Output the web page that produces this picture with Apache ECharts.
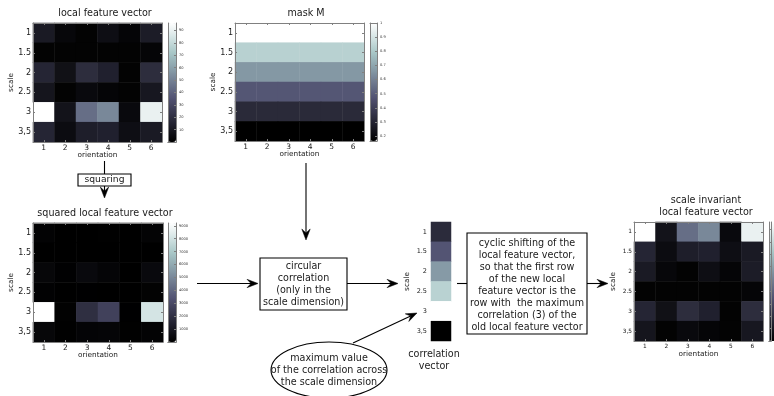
<!DOCTYPE html>
<html><head><meta charset="utf-8">
<script src="https://cdn.jsdelivr.net/npm/echarts@6/dist/echarts.min.js"></script>
<style>html,body{margin:0;padding:0;background:#fff}#c{width:774px;height:396px}</style>
</head><body><div id="c"></div>
<script>
// ---------- data ----------
const orientations = ['1','2','3','4','5','6'];
const scales = ['1','1.5','2','2.5','3','3,5'];
const localFeature = [
  [11, 3, 1, 6, 2, 12],
  [1, 1, 1, 1, 1, 2],
  [16, 7, 19, 14, 1, 19],
  [9, 1, 4, 2, 1, 10],
  [96, 8, 44, 52, 4, 90],
  [16, 5, 13, 14, 6, 11]
];
const squaredFeature = [
  [121, 9, 1, 36, 4, 144],
  [1, 1, 1, 1, 1, 4],
  [256, 49, 361, 196, 1, 361],
  [81, 1, 16, 4, 1, 100],
  [9216, 64, 1936, 2704, 16, 8100],
  [256, 25, 169, 196, 36, 121]
];
const maskM = [1.0, 0.83, 0.66, 0.48, 0.32, 0.165];
const correlation = [0.19, 0.37, 0.6, 0.8, 1.0, 0.0];
const invariantFeature = [
  [96, 8, 44, 52, 4, 90],
  [16, 5, 13, 14, 6, 11],
  [11, 3, 1, 6, 2, 12],
  [1, 1, 1, 1, 1, 2],
  [16, 7, 19, 14, 1, 19],
  [9, 1, 4, 2, 1, 10]
];
const localTicks = [10, 20, 30, 40, 50, 60, 70, 80, 90];
const squaredTicks = [1000, 2000, 3000, 4000, 5000, 6000, 7000, 8000, 9000];
const maskTicks = [0.2, 0.3, 0.4, 0.5, 0.6, 0.7, 0.8, 0.9, 1];
const localRange = [0, 96];
const squaredRange = [0, 9216];
const maskRange = [0.165, 1];
const corrRange = [0, 1];

// ---------- style helpers ----------
const FONT = 'DejaVu Sans';
const FRAME = '#808080';
const TXT = '#1a1a1a';
function bone(t) {
  const a = 0.365079, b = 0.746032;
  const r = t < b ? 0.652778 * t / b : 0.652778 + (t - b) / (1 - b) * (1 - 0.652778);
  const g = t < a ? 0.319444 * t / a : (t < b ? 0.319444 + (t - a) / (b - a) * (0.777778 - 0.319444)
                                             : 0.777778 + (t - b) / (1 - b) * (1 - 0.777778));
  const bl = t < a ? 0.444444 * t / a : 0.444444 + (t - a) / (1 - a) * (1 - 0.444444);
  return 'rgb(' + [r, g, bl].map(v => Math.round(v * 255)).join(',') + ')';
}
const boneStops = [];
for (let i = 0; i <= 40; i++) boneStops.push(bone(i / 40));

const option = {
  animation: false, backgroundColor: '#fff',
  grid: [], xAxis: [], yAxis: [], series: [], visualMap: [],
  graphic: { elements: [] }
};

function heatPanel(box, cfg) {
  const gi = option.grid.length;
  option.grid.push({ left: box[0], top: box[1], width: box[2], height: box[3] });
  const xi = option.xAxis.length, yi = option.yAxis.length;
  const line = { show: cfg.frame, lineStyle: { color: FRAME, width: 1 } };
  const tick = { show: cfg.frame, inside: true, alignWithLabel: true, length: 2, lineStyle: { color: FRAME } };
  option.xAxis.push({
    gridIndex: gi, type: 'category', data: cfg.xCats, position: 'bottom', z: 10,
    axisLine: line, axisTick: tick, splitLine: { show: false },
    axisLabel: { show: cfg.xLabels, fontSize: cfg.xFont, fontFamily: FONT, color: TXT, margin: cfg.xMargin },
    name: cfg.xName, nameLocation: 'middle', nameGap: cfg.xNameGap, nameMoveOverlap: false,
    nameTextStyle: { fontSize: 7.3, fontFamily: FONT, color: TXT }
  });
  option.xAxis.push({
    gridIndex: gi, type: 'category', data: cfg.xCats, position: 'top', z: 10,
    axisLine: line, axisTick: tick, axisLabel: { show: false }, splitLine: { show: false }
  });
  option.yAxis.push({
    gridIndex: gi, type: 'category', data: scales, inverse: true, position: 'left', z: 10,
    axisLine: line, axisTick: tick, splitLine: { show: false },
    axisLabel: { fontSize: cfg.yFont, fontFamily: FONT, color: TXT, margin: cfg.yMargin },
    name: 'scale', nameLocation: 'middle', nameGap: cfg.yNameGap, nameRotate: 90, nameMoveOverlap: false,
    nameTextStyle: { fontSize: 7.3, fontFamily: FONT, color: TXT }
  });
  option.yAxis.push({
    gridIndex: gi, type: 'category', data: scales, inverse: true, position: 'right', z: 10,
    axisLine: line, axisTick: tick, axisLabel: { show: false }, splitLine: { show: false }
  });
  const si = option.series.length;
  option.series.push({
    type: 'heatmap', xAxisIndex: xi, yAxisIndex: yi, data: cfg.data,
    itemStyle: { borderWidth: 0 }, emphasis: { disabled: true }, silent: true
  });
  const vm = {
    type: 'continuous', seriesIndex: si, min: cfg.range[0], max: cfg.range[1],
    inRange: { color: boneStops }, show: !!cfg.bar, calculable: false, orient: 'vertical',
    padding: 0, itemGap: 0
  };
  if (cfg.bar) {
    Object.assign(vm, { left: cfg.bar[0], top: cfg.bar[1], itemWidth: cfg.bar[2], itemHeight: cfg.bar[3] });
    // colour-bar frame and tick labels
    const bg = option.grid.length;
    option.grid.push({ left: cfg.bar[0], top: cfg.bar[1], width: cfg.bar[2], height: cfg.bar[3] });
    const fl = { show: true, lineStyle: { color: FRAME, width: 1 } };
    option.xAxis.push({ gridIndex: bg, type: 'category', data: [''], position: 'bottom', z: 10, axisLine: fl, axisTick: { show: false }, axisLabel: { show: false } });
    option.xAxis.push({ gridIndex: bg, type: 'category', data: [''], position: 'top', z: 10, axisLine: fl, axisTick: { show: false }, axisLabel: { show: false } });
    option.yAxis.push({ gridIndex: bg, type: 'value', min: cfg.range[0], max: cfg.range[1], position: 'left', z: 10,
      axisLine: fl, axisTick: { show: false }, axisLabel: { show: false }, splitLine: { show: false } });
    option.yAxis.push({ gridIndex: bg, type: 'value', min: cfg.range[0], max: cfg.range[1], position: 'right', z: 10,
      axisLine: fl, splitLine: { show: false },
      axisTick: { show: true, inside: true, length: 2, customValues: cfg.barTicks, lineStyle: { color: FRAME } },
      axisLabel: { show: true, customValues: cfg.barTicks, formatter: v => String(v),
        fontSize: 3.6, fontFamily: FONT, color: '#333', margin: 3 } });
  }
  option.visualMap.push(vm);
}

function cells(rows) {
  const out = [];
  rows.forEach((row, r) => row.forEach((v, c) => out.push([c, r, v])));
  return out;
}
function rowCells(vals, nCols) {
  const out = [];
  vals.forEach((v, r) => { for (let c = 0; c < nCols; c++) out.push([c, r, v]); });
  return out;
}

const bigCfg = { frame: true, xCats: orientations, xLabels: true, xFont: 7.5, xMargin: 2, xName: 'orientation',
  xNameGap: 10, yFont: 8, yMargin: 2, yNameGap: 18 };

heatPanel([33, 23, 129, 119], Object.assign({}, bigCfg, { data: cells(localFeature), range: localRange,
  bar: [168, 23, 8, 119], barTicks: localTicks }));
heatPanel([235, 23, 129, 118], Object.assign({}, bigCfg, { data: rowCells(maskM, orientations.length), range: maskRange,
  bar: [370, 23, 7, 118], barTicks: maskTicks }));
heatPanel([33, 223, 130, 119], Object.assign({}, bigCfg, { data: cells(squaredFeature), range: squaredRange,
  bar: [168, 223, 8, 119], barTicks: squaredTicks }));
heatPanel([431, 222, 20, 119], { frame: false, xCats: [''], xLabels: false, xFont: 6, xMargin: 2, xName: '',
  xNameGap: 10, yFont: 6.5, yMargin: 4, yNameGap: 20, data: rowCells(correlation, 1), range: corrRange });
heatPanel([634, 222, 129, 119], Object.assign({}, bigCfg, { xFont: 5.8, yFont: 5.8, yNameGap: 17, data: cells(invariantFeature),
  range: localRange, bar: [769, 222, 8, 119], barTicks: localTicks }));

// ---------- diagram annotations ----------
const G = option.graphic.elements;
function text(x, y, s, size) {
  G.push({ type: 'text', x: x, y: y, z: 20, style: { text: s, fontSize: size || 9.6, fontFamily: FONT, fill: TXT,
    align: 'center', verticalAlign: 'middle', lineHeight: 12 } });
}
function seg(x1, y1, x2, y2) {
  G.push({ type: 'line', z: 20, shape: { x1: x1, y1: y1, x2: x2, y2: y2 }, style: { stroke: '#000', lineWidth: 1.1 } });
}
function arrow(x1, y1, x2, y2) {
  const dx = x2 - x1, dy = y2 - y1, L = Math.hypot(dx, dy);
  const ux = dx / L, uy = dy / L, px = -uy, py = ux;
  const len = 11, w = 4.2, notch = 7;
  seg(x1, y1, x2 - ux * notch, y2 - uy * notch);
  G.push({ type: 'polygon', z: 21, shape: { points: [
    [x2, y2], [x2 - ux * len + px * w, y2 - uy * len + py * w],
    [x2 - ux * notch, y2 - uy * notch], [x2 - ux * len - px * w, y2 - uy * len - py * w]] },
    style: { fill: '#000', stroke: '#000', lineWidth: 0.5 } });
}
function box(x, y, w, h) {
  G.push({ type: 'rect', z: 19, shape: { x: x, y: y, width: w, height: h }, style: { fill: '#fff', stroke: '#000', lineWidth: 1.1 } });
}

// titles
text(105, 13, 'local feature vector');
text(306, 13, 'mask M');
text(105, 213, 'squared local feature vector');
text(706, 206, 'scale invariant\nlocal feature vector');
text(434, 360, 'correlation\nvector');

// squaring
seg(104.5, 161, 104.5, 174);
box(78, 174, 53, 12);
text(104.5, 180, 'squaring', 9.2);
arrow(104.5, 186, 104.5, 198);

// mask to correlation
arrow(306, 163, 306, 240);
arrow(197, 283.5, 258, 283.5);
box(260, 258, 87, 52);
text(303.5, 284, 'circular\ncorrelation\n(only in the\nscale dimension)');
arrow(347, 283.5, 398, 283.5);

// maximum value ellipse
G.push({ type: 'ellipse', z: 19, shape: { cx: 329, cy: 370, rx: 58, ry: 28 }, style: { fill: '#fff', stroke: '#000', lineWidth: 1.1 } });
text(329, 370, 'maximum value\nof the correlation across\nthe scale dimension');
arrow(353, 343, 417, 313);

// cyclic shift
seg(457, 283.5, 467, 283.5);
box(467, 233, 120, 101);
text(527, 285, 'cyclic shifting of the\nlocal feature vector,\nso that the first row\nof the new local\nfeature vector is the\nrow with  the maximum\ncorrelation (3) of the\nold local feature vector');
arrow(587, 283.5, 608, 283.5);

const chart = echarts.init(document.getElementById('c'), null, { renderer: 'canvas' });
chart.setOption(option);
</script>
</body></html>
